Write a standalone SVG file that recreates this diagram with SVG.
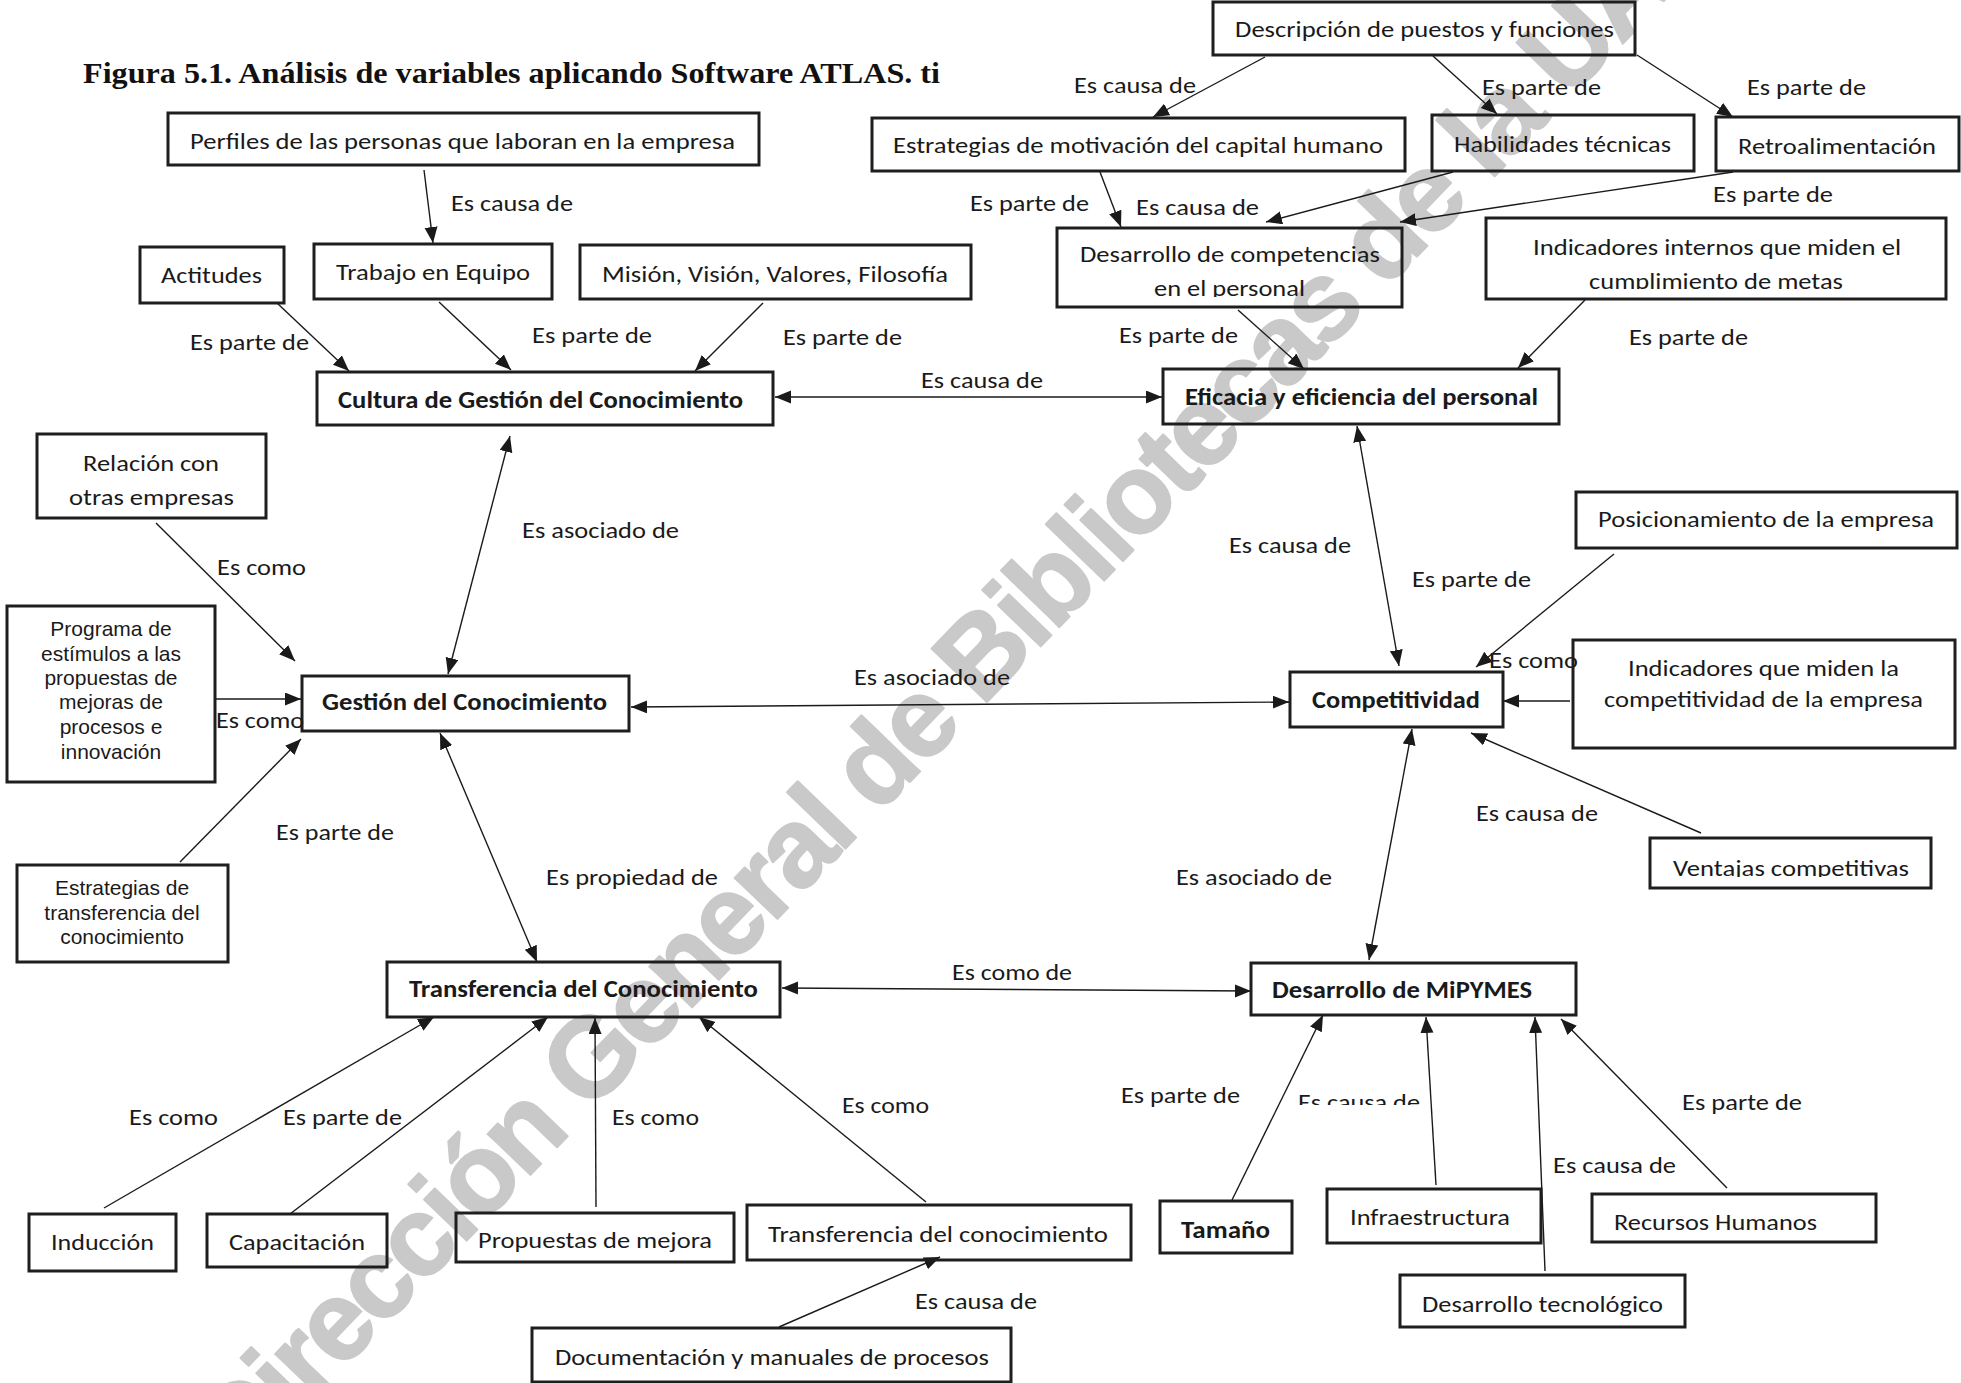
<svg xmlns="http://www.w3.org/2000/svg" width="1961" height="1383" viewBox="0 0 1961 1383">
  <style>
    .box { fill: none; stroke: #1e1e1e; stroke-width: 3; }
    .t { font-family: Carlito, Lato, "Liberation Sans", sans-serif; font-size: 23px; fill: #1a1a1a; }
    .b { font-family: Carlito, Lato, "Liberation Sans", sans-serif; font-size: 24px; font-weight: bold; fill: #1a1a1a; }
    .a { font-family: "Liberation Sans", Arial, sans-serif; font-size: 21px; fill: #1a1a1a; text-anchor: middle; }
    .lbl { font-family: Carlito, Lato, "Liberation Sans", sans-serif; font-size: 23px; fill: #1a1a1a; }
    .c { stroke: #1a1a1a; stroke-width: 1.4; fill: none; marker-end: url(#head); }
    .c2 { stroke: #1a1a1a; stroke-width: 1.4; fill: none; marker-end: url(#head); marker-start: url(#head); }
    .title { font-family: "Liberation Serif", "Times New Roman", serif; font-size: 29px; font-weight: bold; fill: #111; }
    .wm { font-family: "Liberation Sans", Arial, sans-serif; font-size: 112px; font-weight: bold; letter-spacing: -4px; fill: #c9c9c9; stroke: #c9c9c9; stroke-width: 2; stroke-linejoin: round; }
  </style>
  <defs>
    <marker id="head" markerUnits="userSpaceOnUse" markerWidth="17" markerHeight="14" refX="16" refY="6.5" orient="auto-start-reverse">
      <path d="M0,0 L16,6.5 L0,13 z" fill="#1a1a1a"/>
    </marker>
    <clipPath id="clipPersonal"><rect x="1057" y="228" width="345" height="69"/></clipPath>
    <clipPath id="clipMetas"><rect x="1486" y="218" width="460" height="71"/></clipPath>
    <clipPath id="clipVentajas"><rect x="1650" y="838" width="281" height="39"/></clipPath>
    <clipPath id="clipCausaInfra"><rect x="1290" y="1080" width="140" height="25"/></clipPath>
  </defs>

  <rect width="1961" height="1383" fill="#ffffff"/>

  <!-- library watermark -->
  <g id="watermark">
    <text class="wm" x="986" y="703" text-anchor="middle" transform="rotate(-46 986 703)">Dirección General de Bibliotecas de la UAQ</text>
  </g>

  <text class="title" x="83" y="83" textLength="857" lengthAdjust="spacingAndGlyphs">Figura 5.1. Análisis de variables aplicando Software ATLAS. ti</text>

  <!-- connectors and their labels -->
  <g id="connectors">
    <line class="c" x1="424" y1="170" x2="433" y2="243"/>
    <text class="lbl" x="451" y="211" textLength="122" lengthAdjust="spacingAndGlyphs">Es causa de</text>

    <line class="c" x1="277" y1="303" x2="349" y2="371"/>
    <text class="lbl" x="190" y="350" textLength="119" lengthAdjust="spacingAndGlyphs">Es parte de</text>

    <line class="c" x1="439" y1="302" x2="511" y2="370"/>
    <text class="lbl" x="532" y="343" textLength="120" lengthAdjust="spacingAndGlyphs">Es parte de</text>

    <line class="c" x1="763" y1="303" x2="695" y2="371"/>
    <text class="lbl" x="783" y="345" textLength="119" lengthAdjust="spacingAndGlyphs">Es parte de</text>

    <line class="c2" x1="775" y1="397" x2="1162" y2="397"/>
    <text class="lbl" x="921" y="388" textLength="122" lengthAdjust="spacingAndGlyphs">Es causa de</text>

    <line class="c" x1="1265" y1="57" x2="1153" y2="117"/>
    <text class="lbl" x="1074" y="93" textLength="122" lengthAdjust="spacingAndGlyphs">Es causa de</text>

    <line class="c" x1="1433" y1="56" x2="1497" y2="114"/>
    <text class="lbl" x="1482" y="95" textLength="119" lengthAdjust="spacingAndGlyphs">Es parte de</text>

    <line class="c" x1="1637" y1="55" x2="1733" y2="117"/>
    <text class="lbl" x="1747" y="95" textLength="119" lengthAdjust="spacingAndGlyphs">Es parte de</text>

    <line class="c" x1="1100" y1="172" x2="1121" y2="227"/>
    <text class="lbl" x="970" y="211" textLength="119" lengthAdjust="spacingAndGlyphs">Es parte de</text>

    <line class="c" x1="1453" y1="172" x2="1266" y2="222"/>
    <text class="lbl" x="1136" y="215" textLength="123" lengthAdjust="spacingAndGlyphs">Es causa de</text>

    <line class="c" x1="1733" y1="172" x2="1400" y2="222"/>
    <text class="lbl" x="1713" y="202" textLength="120" lengthAdjust="spacingAndGlyphs">Es parte de</text>

    <line class="c" x1="1238" y1="310" x2="1304" y2="369"/>
    <text class="lbl" x="1119" y="343" textLength="119" lengthAdjust="spacingAndGlyphs">Es parte de</text>

    <line class="c" x1="1585" y1="300" x2="1518" y2="368"/>
    <text class="lbl" x="1629" y="345" textLength="119" lengthAdjust="spacingAndGlyphs">Es parte de</text>

    <line class="c2" x1="510" y1="436" x2="448" y2="674"/>
    <text class="lbl" x="522" y="538" textLength="157" lengthAdjust="spacingAndGlyphs">Es asociado de</text>

    <line class="c" x1="156" y1="523" x2="295" y2="661"/>
    <text class="lbl" x="217" y="575" textLength="89" lengthAdjust="spacingAndGlyphs">Es como</text>

    <line class="c" x1="215" y1="699" x2="301" y2="699"/>
    <text class="lbl" x="216" y="728" textLength="88" lengthAdjust="spacingAndGlyphs">Es como</text>

    <line class="c" x1="180" y1="862" x2="301" y2="739"/>
    <text class="lbl" x="276" y="840" textLength="118" lengthAdjust="spacingAndGlyphs">Es parte de</text>

    <line class="c2" x1="631" y1="707" x2="1289" y2="702"/>
    <text class="lbl" x="854" y="685" textLength="156" lengthAdjust="spacingAndGlyphs">Es asociado de</text>

    <line class="c2" x1="440" y1="733" x2="537" y2="962"/>
    <text class="lbl" x="546" y="885" textLength="172" lengthAdjust="spacingAndGlyphs">Es propiedad de</text>

    <line class="c2" x1="1357" y1="426" x2="1399" y2="666"/>
    <text class="lbl" x="1229" y="553" textLength="122" lengthAdjust="spacingAndGlyphs">Es causa de</text>

    <line class="c" x1="1614" y1="554" x2="1476" y2="667"/>
    <text class="lbl" x="1412" y="587" textLength="119" lengthAdjust="spacingAndGlyphs">Es parte de</text>
    <text class="lbl" x="1489" y="668" textLength="89" lengthAdjust="spacingAndGlyphs">Es como</text>

    <line class="c" x1="1570" y1="701" x2="1503" y2="701"/>

    <line class="c" x1="1701" y1="833" x2="1471" y2="733"/>
    <text class="lbl" x="1476" y="821" textLength="122" lengthAdjust="spacingAndGlyphs">Es causa de</text>

    <line class="c2" x1="1412" y1="729" x2="1369" y2="960"/>
    <text class="lbl" x="1176" y="885" textLength="156" lengthAdjust="spacingAndGlyphs">Es asociado de</text>

    <line class="c2" x1="782" y1="988" x2="1251" y2="991"/>
    <text class="lbl" x="952" y="980" textLength="120" lengthAdjust="spacingAndGlyphs">Es como de</text>

    <line class="c" x1="104" y1="1208" x2="434" y2="1017"/>
    <text class="lbl" x="129" y="1125" textLength="89" lengthAdjust="spacingAndGlyphs">Es como</text>

    <line class="c" x1="290" y1="1214" x2="548" y2="1017"/>
    <text class="lbl" x="283" y="1125" textLength="119" lengthAdjust="spacingAndGlyphs">Es parte de</text>

    <line class="c" x1="596" y1="1207" x2="595" y2="1018"/>
    <text class="lbl" x="612" y="1125" textLength="87" lengthAdjust="spacingAndGlyphs">Es como</text>

    <line class="c" x1="926" y1="1202" x2="699" y2="1017"/>
    <text class="lbl" x="842" y="1113" textLength="87" lengthAdjust="spacingAndGlyphs">Es como</text>

    <line class="c" x1="779" y1="1327" x2="940" y2="1257"/>
    <text class="lbl" x="915" y="1309" textLength="122" lengthAdjust="spacingAndGlyphs">Es causa de</text>

    <line class="c" x1="1232" y1="1200" x2="1323" y2="1015"/>
    <text class="lbl" x="1121" y="1103" textLength="119" lengthAdjust="spacingAndGlyphs">Es parte de</text>

    <line class="c" x1="1436" y1="1185" x2="1426" y2="1017"/>
    <text class="lbl" x="1298" y="1110" textLength="122" lengthAdjust="spacingAndGlyphs" clip-path="url(#clipCausaInfra)">Es causa de</text>

    <line class="c" x1="1545" y1="1271" x2="1535" y2="1017"/>
    <text class="lbl" x="1553" y="1173" textLength="123" lengthAdjust="spacingAndGlyphs">Es causa de</text>

    <line class="c" x1="1727" y1="1188" x2="1561" y2="1019"/>
    <text class="lbl" x="1682" y="1110" textLength="120" lengthAdjust="spacingAndGlyphs">Es parte de</text>
  </g>

  <!-- concept nodes -->
  <g id="perfiles">
    <rect class="box" x="168" y="113" width="591" height="52"/>
    <text class="t" x="190" y="149" textLength="545" lengthAdjust="spacingAndGlyphs">Perfiles de las personas que laboran en la empresa</text>
  </g>
  <g id="actitudes">
    <rect class="box" x="140" y="247" width="144" height="56"/>
    <text class="t" x="161" y="283" textLength="101" lengthAdjust="spacingAndGlyphs">Actitudes</text>
  </g>
  <g id="trabajo-equipo">
    <rect class="box" x="314" y="244" width="238" height="55"/>
    <text class="t" x="336" y="280" textLength="194" lengthAdjust="spacingAndGlyphs">Trabajo en Equipo</text>
  </g>
  <g id="mision">
    <rect class="box" x="580" y="245" width="391" height="54"/>
    <text class="t" x="602" y="282" textLength="346" lengthAdjust="spacingAndGlyphs">Misión, Visión, Valores, Filosofía</text>
  </g>
  <g id="cultura">
    <rect class="box" x="317" y="372" width="456" height="53"/>
    <text class="b" x="338" y="408" textLength="405" lengthAdjust="spacingAndGlyphs">Cultura de Gestión del Conocimiento</text>
  </g>
  <g id="descripcion">
    <rect class="box" x="1213" y="2" width="422" height="53"/>
    <text class="t" x="1235" y="37" textLength="379" lengthAdjust="spacingAndGlyphs">Descripción de puestos y funciones</text>
  </g>
  <g id="estrategias-motivacion">
    <rect class="box" x="872" y="118" width="533" height="53"/>
    <text class="t" x="893" y="153" textLength="490" lengthAdjust="spacingAndGlyphs">Estrategias de motivación del capital humano</text>
  </g>
  <g id="habilidades">
    <rect class="box" x="1432" y="115" width="262" height="56"/>
    <text class="t" x="1454" y="152" textLength="217" lengthAdjust="spacingAndGlyphs">Habilidades técnicas</text>
  </g>
  <g id="retroalimentacion">
    <rect class="box" x="1716" y="117" width="243" height="54"/>
    <text class="t" x="1738" y="154" textLength="198" lengthAdjust="spacingAndGlyphs">Retroalimentación</text>
  </g>
  <g id="desarrollo-competencias">
    <rect class="box" x="1057" y="228" width="345" height="79"/>
    <text class="t" x="1080" y="262" textLength="300" lengthAdjust="spacingAndGlyphs">Desarrollo de competencias</text>
    <text class="t" x="1154" y="296" textLength="151" lengthAdjust="spacingAndGlyphs" clip-path="url(#clipPersonal)">en el personal</text>
  </g>
  <g id="indicadores-internos">
    <rect class="box" x="1486" y="218" width="460" height="81"/>
    <text class="t" x="1533" y="255" textLength="368" lengthAdjust="spacingAndGlyphs">Indicadores internos que miden el</text>
    <text class="t" x="1589" y="289" textLength="254" lengthAdjust="spacingAndGlyphs" clip-path="url(#clipMetas)">cumplimiento de metas</text>
  </g>
  <g id="eficacia">
    <rect class="box" x="1163" y="369" width="396" height="55"/>
    <text class="b" x="1185" y="405" textLength="353" lengthAdjust="spacingAndGlyphs">Eficacia y eficiencia del personal</text>
  </g>
  <g id="relacion">
    <rect class="box" x="37" y="434" width="229" height="84"/>
    <text class="t" x="83" y="471" textLength="136" lengthAdjust="spacingAndGlyphs">Relación con</text>
    <text class="t" x="69" y="505" textLength="165" lengthAdjust="spacingAndGlyphs">otras empresas</text>
  </g>
  <g id="programa">
    <rect class="box" x="7" y="606" width="208" height="176"/>
    <text class="a" x="111" y="636">Programa de</text>
    <text class="a" x="111" y="661">estímulos a las</text>
    <text class="a" x="111" y="685">propuestas de</text>
    <text class="a" x="111" y="709">mejoras de</text>
    <text class="a" x="111" y="734">procesos e</text>
    <text class="a" x="111" y="759">innovación</text>
  </g>
  <g id="gestion">
    <rect class="box" x="302" y="676" width="327" height="55"/>
    <text class="b" x="322" y="710" textLength="285" lengthAdjust="spacingAndGlyphs">Gestión del Conocimiento</text>
  </g>
  <g id="estrategias-transferencia">
    <rect class="box" x="17" y="865" width="211" height="97"/>
    <text class="a" x="122" y="895">Estrategias de</text>
    <text class="a" x="122" y="920">transferencia del</text>
    <text class="a" x="122" y="944">conocimiento</text>
  </g>
  <g id="competitividad">
    <rect class="box" x="1290" y="672" width="213" height="55"/>
    <text class="b" x="1312" y="708" textLength="168" lengthAdjust="spacingAndGlyphs">Competitividad</text>
  </g>
  <g id="posicionamiento">
    <rect class="box" x="1576" y="492" width="381" height="56"/>
    <text class="t" x="1598" y="527" textLength="336" lengthAdjust="spacingAndGlyphs">Posicionamiento de la empresa</text>
  </g>
  <g id="indicadores-competitividad">
    <rect class="box" x="1573" y="640" width="382" height="108"/>
    <text class="t" x="1628" y="676" textLength="271" lengthAdjust="spacingAndGlyphs">Indicadores que miden la</text>
    <text class="t" x="1604" y="707" textLength="319" lengthAdjust="spacingAndGlyphs">competitividad de la empresa</text>
  </g>
  <g id="ventajas">
    <rect class="box" x="1650" y="838" width="281" height="50"/>
    <text class="t" x="1673" y="876" textLength="236" lengthAdjust="spacingAndGlyphs" clip-path="url(#clipVentajas)">Ventajas competitivas</text>
  </g>
  <g id="transferencia">
    <rect class="box" x="387" y="962" width="393" height="55"/>
    <text class="b" x="409" y="997" textLength="349" lengthAdjust="spacingAndGlyphs">Transferencia del Conocimiento</text>
  </g>
  <g id="mipymes">
    <rect class="box" x="1251" y="963" width="325" height="52"/>
    <text class="b" x="1272" y="998" textLength="260" lengthAdjust="spacingAndGlyphs">Desarrollo de MiPYMES</text>
  </g>
  <g id="induccion">
    <rect class="box" x="29" y="1214" width="147" height="57"/>
    <text class="t" x="51" y="1250" textLength="103" lengthAdjust="spacingAndGlyphs">Inducción</text>
  </g>
  <g id="capacitacion">
    <rect class="box" x="207" y="1214" width="180" height="53"/>
    <text class="t" x="229" y="1250" textLength="136" lengthAdjust="spacingAndGlyphs">Capacitación</text>
  </g>
  <g id="propuestas">
    <rect class="box" x="456" y="1213" width="278" height="49"/>
    <text class="t" x="478" y="1248" textLength="234" lengthAdjust="spacingAndGlyphs">Propuestas de mejora</text>
  </g>
  <g id="transferencia-conocimiento">
    <rect class="box" x="747" y="1205" width="384" height="55"/>
    <text class="t" x="768" y="1242" textLength="340" lengthAdjust="spacingAndGlyphs">Transferencia del conocimiento</text>
  </g>
  <g id="documentacion">
    <rect class="box" x="532" y="1328" width="479" height="54"/>
    <text class="t" x="555" y="1365" textLength="434" lengthAdjust="spacingAndGlyphs">Documentación y manuales de procesos</text>
  </g>
  <g id="tamano">
    <rect class="box" x="1160" y="1201" width="132" height="52"/>
    <text class="b" x="1181" y="1238" textLength="89" lengthAdjust="spacingAndGlyphs">Tamaño</text>
  </g>
  <g id="infraestructura">
    <rect class="box" x="1327" y="1189" width="214" height="54"/>
    <text class="t" x="1350" y="1225" textLength="160" lengthAdjust="spacingAndGlyphs">Infraestructura</text>
  </g>
  <g id="recursos-humanos">
    <rect class="box" x="1592" y="1194" width="284" height="48"/>
    <text class="t" x="1614" y="1230" textLength="203" lengthAdjust="spacingAndGlyphs">Recursos Humanos</text>
  </g>
  <g id="desarrollo-tecnologico">
    <rect class="box" x="1400" y="1275" width="285" height="52"/>
    <text class="t" x="1422" y="1312" textLength="241" lengthAdjust="spacingAndGlyphs">Desarrollo tecnológico</text>
  </g>
</svg>
